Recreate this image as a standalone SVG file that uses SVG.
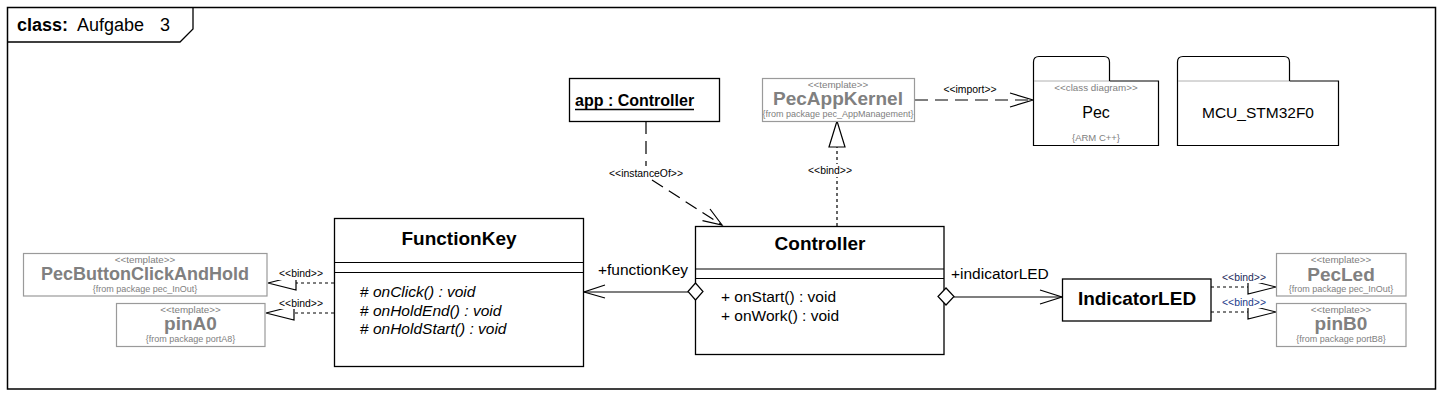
<svg xmlns="http://www.w3.org/2000/svg" width="1444" height="401" viewBox="0 0 1444 401">
<style>
text{font-family:"Liberation Sans",Arial,sans-serif;fill:#000}
.box{fill:#fff;stroke:#000;stroke-width:1.3}
.gbox{fill:#fff;stroke:#9a9a9a;stroke-width:1.2}
.line{fill:none;stroke:#000;stroke-width:1.2}
.gline{fill:none;stroke:#b0b0b0;stroke-width:1}
.title{font-weight:bold;font-size:19px;text-anchor:middle}
.op{font-size:15.5px}
.it{font-style:italic}
.st{font-size:9.8px;fill:#808080;text-anchor:middle}
.gname{font-weight:bold;font-size:19px;fill:#808080;text-anchor:middle}
.from{font-size:9px;fill:#808080;text-anchor:middle}
.lbl{font-size:10.4px;text-anchor:middle}
.role{font-size:15.5px}
.dash{fill:none;stroke:#000;stroke-width:1.2;stroke-dasharray:3,3}
.ldash{fill:none;stroke:#000;stroke-width:1.2;stroke-dasharray:13,7}
.tri{fill:#fff;stroke:#000;stroke-width:1.2}
</style>
<rect x="0" y="0" width="1444" height="401" fill="#fff"/>
<g id="frame">
<rect x="7.5" y="7.5" width="1428" height="381.5" fill="none" stroke="#000" stroke-width="1.5"/>
<path d="M7.5,42 H180 L193,29 V7.5" fill="none" stroke="#000" stroke-width="1.3"/>
<text x="17" y="31" font-size="18px"><tspan font-weight="bold">class:</tspan><tspan x="77">Aufgabe</tspan><tspan x="160">3</tspan></text>
</g>
<g id="connectors">
<path class="ldash" d="M646,121 V166"/>
<path class="ldash" d="M652,180 L722,225"/>
<path class="line" d="M710,209 L722,225 L702.5,220.6"/>
<rect x="606" y="166" width="78" height="13" fill="#fff"/>
<text class="lbl" x="646" y="177">&lt;&lt;instanceOf&gt;&gt;</text>
<path class="dash" d="M837,226 V147"/>
<polygon class="tri" points="837,121 829,147 845,147"/>
<rect x="807" y="164" width="46" height="13" fill="#fff"/>
<text class="lbl" x="830" y="174">&lt;&lt;bind&gt;&gt;</text>
<path class="ldash" d="M915,100 H1033"/>
<path class="line" d="M1010,93 L1033,100 L1010,107"/>
<text class="lbl" x="970" y="93">&lt;&lt;import&gt;&gt;</text>
<path class="line" d="M584,292 H688"/>
<path class="line" d="M605,285 L584,292 L605,298"/>
<text class="role" x="598" y="275">+functionKey</text>
<path class="line" d="M954,297 H1062"/>
<path class="line" d="M1040,290 L1062,297 L1040,304"/>
<text class="role" x="951" y="279">+indicatorLED</text>
<path class="dash" d="M334,283 H296"/>
<polygon class="tri" points="268,283 296,276 296,290"/>
<rect x="278" y="266" width="46" height="14" fill="#fff"/>
<text class="lbl" x="301" y="277">&lt;&lt;bind&gt;&gt;</text>
<path class="dash" d="M334,313 H294"/>
<polygon class="tri" points="266,313 294,306 294,320"/>
<rect x="278" y="296" width="46" height="13" fill="#fff"/>
<text class="lbl" x="301" y="307">&lt;&lt;bind&gt;&gt;</text>
<path class="dash" d="M1211,287 H1248"/>
<polygon class="tri" points="1276,287 1248,280 1248,294"/>
<rect x="1221" y="270" width="46" height="13" fill="#fff"/>
<text class="lbl" x="1244" y="281" style="fill:#1a2a5a">&lt;&lt;bind&gt;&gt;</text>
<path class="dash" d="M1211,312 H1248"/>
<polygon class="tri" points="1276,312 1248,305 1248,319"/>
<rect x="1221" y="295" width="46" height="13" fill="#fff"/>
<text class="lbl" x="1244" y="306" style="fill:#1a3a8a">&lt;&lt;bind&gt;&gt;</text>
</g>
<g id="app-controller">
<rect class="box" x="569.5" y="78.5" width="150" height="43"/>
<text x="575" y="106" font-size="16px" font-weight="bold">app : Controller</text>
<line x1="575" y1="109.5" x2="694" y2="109.5" stroke="#000" stroke-width="1.3"/>
</g>
<g id="PecAppKernel">
<rect class="gbox" x="762.5" y="78.5" width="152" height="43"/>
<text class="st" x="838" y="87.5">&lt;&lt;template&gt;&gt;</text>
<text class="gname" x="838" y="105">PecAppKernel</text>
<text class="from" x="838" y="116.5">{from package pec_AppManagement}</text>
</g>
<g id="Pec">
<path d="M1033.5,81 V62 Q1033.5,56.5 1039,56.5 H1104 Q1109.5,56.5 1109.5,62 V81" fill="#fff" stroke="#000" stroke-width="1.2"/>
<path d="M1109.5,81 H1158.5 V145.5 H1033.5 V81" fill="#fff" stroke="#000" stroke-width="1.2"/>
<path class="gline" d="M1034,81 H1109"/>
<text class="st" x="1096" y="91">&lt;&lt;class diagram&gt;&gt;</text>
<text x="1096" y="118" font-size="16px" text-anchor="middle">Pec</text>
<text class="st" x="1096" y="141" style="font-size:9.5px">{ARM C++}</text>
</g>
<g id="MCU_STM32F0">
<path d="M1177.5,81 V62 Q1177.5,56.5 1183,56.5 H1284 Q1289.5,56.5 1289.5,62 V81" fill="#fff" stroke="#000" stroke-width="1.2"/>
<path d="M1289.5,81 H1338.5 V145.5 H1177.5 V81" fill="#fff" stroke="#000" stroke-width="1.2"/>
<path class="gline" d="M1178,81 H1289"/>
<text x="1258" y="118" font-size="15.5px" text-anchor="middle">MCU_STM32F0</text>
</g>
<g id="FunctionKey">
<rect class="box" x="334.5" y="218.5" width="249" height="148"/>
<line class="line" x1="334.5" y1="262.5" x2="583.5" y2="262.5"/>
<line class="line" x1="334.5" y1="272.5" x2="583.5" y2="272.5"/>
<text class="title" x="459" y="245">FunctionKey</text>
<text class="op" x="360" y="297"># <tspan class="it">onClick() : void</tspan></text>
<text class="op" x="360" y="315.5"># <tspan class="it">onHoldEnd() : void</tspan></text>
<text class="op" x="360" y="334"># <tspan class="it">onHoldStart() : void</tspan></text>
</g>
<g id="Controller">
<rect class="box" x="695.5" y="226.5" width="248.5" height="128"/>
<line class="line" x1="695.5" y1="269" x2="944" y2="269"/>
<line class="line" x1="695.5" y1="278.5" x2="944" y2="278.5"/>
<text class="title" x="820" y="250">Controller</text>
<text class="op" x="721" y="302">+ onStart() : void</text>
<text class="op" x="721" y="321">+ onWork() : void</text>
<polygon class="tri" points="688,291.5 695.5,283 703,291.5 695.5,300"/>
<polygon class="tri" points="938,296.5 946,288 954,296.5 946,305"/>
</g>
<g id="IndicatorLED">
<rect class="box" x="1062.5" y="279" width="148.5" height="42"/>
<text class="title" x="1137" y="305">IndicatorLED</text>
</g>
<g id="PecButtonClickAndHold">
<rect class="gbox" x="23.5" y="253.5" width="243.5" height="42.5"/>
<text class="st" x="145" y="263">&lt;&lt;template&gt;&gt;</text>
<text class="gname" x="145" y="280" style="font-size:18px">PecButtonClickAndHold</text>
<text class="from" x="145" y="292">{from package pec_InOut}</text>
</g>
<g id="pinA0">
<rect class="gbox" x="116.5" y="303.5" width="148.5" height="43"/>
<text class="st" x="190.5" y="312.5">&lt;&lt;template&gt;&gt;</text>
<text class="gname" x="190.5" y="330">pinA0</text>
<text class="from" x="190.5" y="342">{from package portA8}</text>
</g>
<g id="PecLed">
<rect class="gbox" x="1276.5" y="253.5" width="129.5" height="42.5"/>
<text class="st" x="1341" y="263">&lt;&lt;template&gt;&gt;</text>
<text class="gname" x="1341" y="281">PecLed</text>
<text class="from" x="1341" y="292">{from package pec_InOut}</text>
</g>
<g id="pinB0">
<rect class="gbox" x="1276.5" y="303.5" width="129.5" height="43"/>
<text class="st" x="1341" y="312.5">&lt;&lt;template&gt;&gt;</text>
<text class="gname" x="1341" y="329.5">pinB0</text>
<text class="from" x="1341" y="341.5">{from package portB8}</text>
</g>
</svg>
